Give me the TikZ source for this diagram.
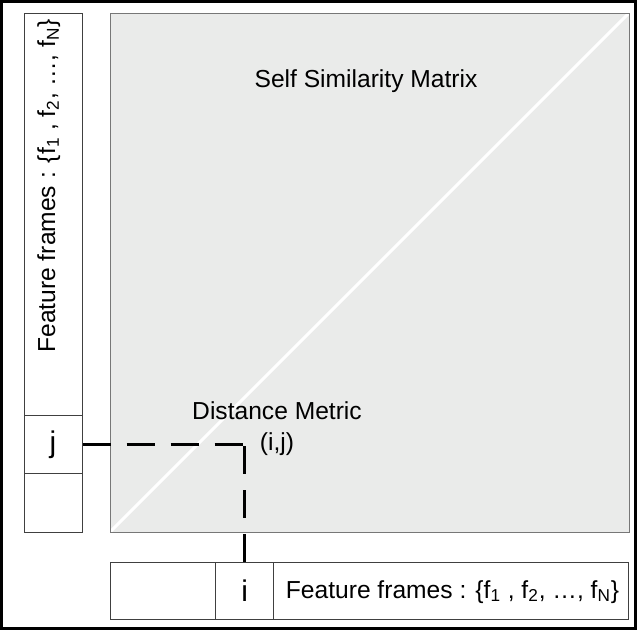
\documentclass[tikz,border=0pt]{standalone}
\usepackage{fontspec}
\setmainfont{Liberation Sans}
\usetikzlibrary{calc}

\definecolor{matrixgray}{HTML}{EAEBEA}
\definecolor{edgegray}{HTML}{777777}

\tikzset{
    thinbox/.style={draw=black!75, line width=0.02cm},
    cellbox/.style={thinbox, inner sep=0pt, minimum width=1.16cm, minimum height=1.16cm,
        font=\fontsize{17}{20}\selectfont},
    txt/.style={font=\fontsize{14}{17}\selectfont, inner sep=0pt},
    link/.style={line width=0.06cm, dash pattern=on 0.56cm off 0.32cm},
}

\begin{document}
\begin{tikzpicture}
    \useasboundingbox (0,0) rectangle (12.74,12.6);

    % similarity matrix
    \fill[matrixgray] (2.20,1.96) rectangle (12.58,12.34);
    \draw[white, line width=0.06cm] (2.20,1.96) -- (12.58,12.34);
    \draw[edgegray, line width=0.02cm] (2.20,1.96) rectangle (12.58,12.34);
    \node[txt, anchor=base] (title) at (7.32,10.86) {Self Similarity Matrix};
    \node[txt, anchor=base] (metric) at (5.54,4.22) {Distance Metric};
    \node[txt, anchor=base] (ij) at (5.54,3.60) {(i,j)};

    % frames along the side
    \draw[thinbox] (0.48,1.96) rectangle (1.64,12.34);
    \node[cellbox] (j) at (1.06,3.71) {j};
    \node[txt, rotate=90, anchor=base] (sidelabel) at (1.10,8.88)
        {Feature frames : \{f\textsubscript{1} , f\textsubscript{2}, …, f\textsubscript{N}\}};

    % frames along the bottom
    \draw[thinbox] (2.20,0.22) rectangle (12.56,1.36);
    \node[cellbox, minimum height=1.14cm] (i) at (4.895,0.79) {i};
    \node[txt, anchor=base] (bottomlabel) at (9.05,0.64)
        {Feature frames : \{f\textsubscript{1} , f\textsubscript{2}, …, f\textsubscript{N}\}};

    % links to the matrix entry
    \coordinate (entry) at (i.north |- j.east);
    \draw[link] (j.east) -- (entry);
    \draw[link] (i.north) -- (entry);

    % outer frame
    \draw[line width=0.06cm] (0.03,0.03) rectangle (12.71,12.57);
\end{tikzpicture}
\end{document}
